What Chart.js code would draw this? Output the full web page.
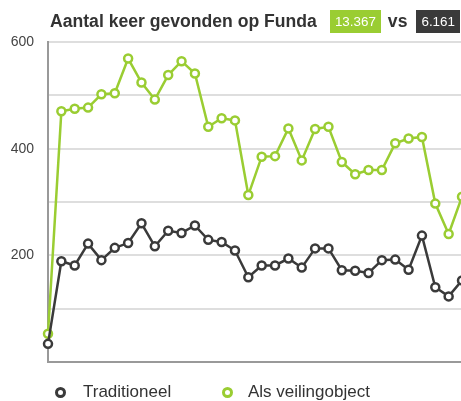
<!DOCTYPE html>
<html>
<head>
<meta charset="utf-8">
<script src="https://cdn.jsdelivr.net/npm/chart.js@4.4.0/dist/chart.umd.min.js"></script>
<style>
  html, body { margin: 0; padding: 0; background: #fff; overflow: hidden; width: 461px; height: 401px; }
  body { position: relative; font-family: "Liberation Sans", Arial, sans-serif; color: #333; }
  #myChart { position: absolute; left: 0; top: 0; }
  #head { position: absolute; left: 50px; top: 9px; height: 24px; display: flex; align-items: center; white-space: nowrap; }
  #head .title { font-weight: bold; font-size: 17.6px; color: #333; }
  #head .badge { color: #fff; font-size: 13.4px; padding: 4px 5px; line-height: 15px; }
  #head .green { background: #9acd32; margin-left: 13px; }
  #head .dark { background: #3a3a3a; margin-left: 9px; }
  #head .vs { font-weight: bold; font-size: 17.6px; margin-left: 7px; }
  #legend { position: absolute; top: 382px; left: 0; height: 20px; font-size: 17px; color: #333; }
  #legend .item { position: absolute; top: 0; white-space: nowrap; line-height: 20px; }
  #legend .dot { position: absolute; top: 4.5px; width: 5px; height: 5px; border-radius: 50%; border: 3px solid; background: #fff; }
  #legend .txt { position: absolute; top: 0; }
</style>
</head>
<body>
<canvas id="myChart" width="470" height="401"></canvas>
<div id="head">
  <span class="title">Aantal keer gevonden op Funda</span>
  <span class="badge green">13.367</span>
  <span class="vs">vs</span>
  <span class="badge dark">6.161</span>
</div>
<div id="legend">
  <div class="item" style="left:55px"><span class="dot" style="left:0;border-color:#3a3a3a"></span><span class="txt" style="left:28px">Traditioneel</span></div>
  <div class="item" style="left:222px"><span class="dot" style="left:0;border-color:#9acd32"></span><span class="txt" style="left:26px">Als veilingobject</span></div>
</div>
<script>
const labels = [
    '1', '2', '3', '4', '5', '6', '7', '8',
    '9', '10', '11', '12', '13', '14', '15', '16',
    '17', '18', '19', '20', '21', '22', '23', '24',
    '25', '26', '27', '28', '29', '30', '31', '32',
];

// Traditioneel
const traditioneel = [34, 189, 181, 222, 191, 214, 223, 260, 217, 246, 242, 256, 229, 225, 209, 159,
    181, 181, 194, 177, 213, 213, 172, 171, 167, 191, 192, 173, 237, 140, 123, 153];

// Als veilingobject
const veiling = [53, 470, 475, 477, 502, 504, 569, 524, 492, 538, 564, 541, 441, 457, 453, 313,
    385, 386, 438, 378, 437, 441, 375, 352, 360, 360, 410, 419, 422, 297, 240, 310];

const yTickLabels = [200, 400, 600];

const cts = document.querySelector('#myChart').getContext('2d');

const data = {
    labels,
    datasets: [
        {
            label: 'Traditioneel',
            data: traditioneel,
            borderColor: '#3a3a3a',
            backgroundColor: '#fff',
            pointBackgroundColor: '#fff',
            pointBorderColor: '#3a3a3a',
            borderWidth: 2.5,
            pointBorderWidth: 2.5,
            pointRadius: 4,
            tension: 0,
            clip: false,
        },
        {
            label: 'Als veilingobject',
            data: veiling,
            borderColor: '#9acd32',
            backgroundColor: '#fff',
            pointBackgroundColor: '#fff',
            pointBorderColor: '#9acd32',
            borderWidth: 2.5,
            pointBorderWidth: 2.5,
            pointRadius: 4,
            tension: 0,
            clip: false,
        },
    ],
};

const config = {
    type: 'line',
    data: data,
    options: {
        responsive: false,
        animation: false,
        layout: { padding: { top: 42, bottom: 39, left: 0, right: 8 } },
        plugins: {
            legend: { display: false },
            title: { display: false },
            tooltip: { enabled: false },
        },
        scales: {
            x: {
                offset: false,
                grid: { display: false, drawTicks: false },
                border: { display: true, color: '#999', width: 2 },
                ticks: { display: false },
            },
            y: {
                min: 0,
                max: 600,
                afterFit: function (scale) { scale.width = 48; },
                grid: { color: '#dedede', lineWidth: 2, drawTicks: false },
                border: { display: true, color: '#999', width: 2 },
                ticks: {
                    stepSize: 100,
                    padding: 14,
                    color: '#444',
                    font: { family: '"Liberation Sans", Arial, sans-serif', size: 14 },
                    callback: function (value) {
                        return yTickLabels.includes(value) ? value : '';
                    }
                }
            }
        }
    }
};

const myChart = new Chart(cts, config);
</script>
</body>
</html>
